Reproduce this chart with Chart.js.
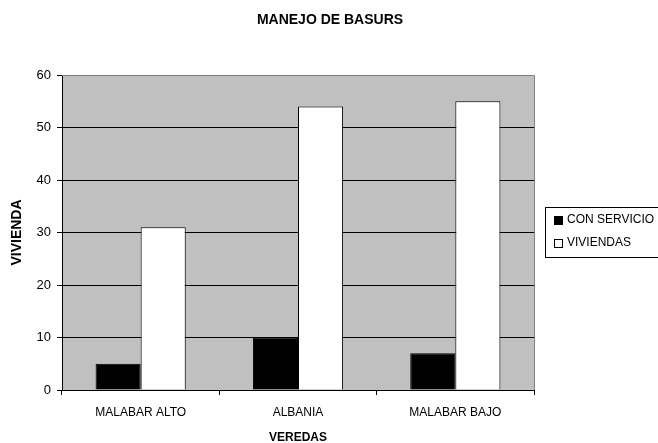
<!DOCTYPE html>
<html>
<head>
<meta charset="utf-8">
<script src="https://cdn.jsdelivr.net/npm/chart.js@4.4.1/dist/chart.umd.min.js"></script>
<style>
    html, body { margin: 0; padding: 0; background: #fff; }
    canvas { display: block; }
</style>
</head>
<body>
<canvas id="chart" width="658" height="443"></canvas>
<script>
// data
const veredas = ["MALABAR ALTO", "ALBANIA", "MALABAR BAJO"];
const conServicio = [5, 10, 7];
const viviendas = [31, 54, 55];
const seriesNames = ["CON SERVICIO", "VIVIENDAS"];
const seriesColors = ["#000000", "#ffffff"];
const yMax = 60;
const yStep = 10;

const FONT = "'Liberation Sans', Arial, sans-serif";

// gray plot background, gray top/right frame, titles and boxed legend
const decor = {
    id: "decor",
    beforeDraw(chart) {
        const { ctx, chartArea: a } = chart;
        ctx.save();
        ctx.fillStyle = "#fff";
        ctx.fillRect(0, 0, chart.width, chart.height);
        ctx.fillStyle = "#c0c0c0";
        ctx.fillRect(a.left, a.top, a.right - a.left, a.bottom - a.top);
        ctx.restore();
    },
    afterDraw(chart) {
        const { ctx, chartArea: a } = chart;
        ctx.save();
        ctx.strokeStyle = "#808080";
        ctx.lineWidth = 1;
        ctx.beginPath();
        ctx.moveTo(a.left, Math.round(a.top) + 0.5);
        ctx.lineTo(Math.round(a.right) + 0.5, Math.round(a.top) + 0.5);
        ctx.lineTo(Math.round(a.right) + 0.5, a.bottom);
        ctx.stroke();

        ctx.fillStyle = "#000";
        ctx.textAlign = "center";
        ctx.textBaseline = "middle";

        // chart title
        ctx.font = "bold 14px " + FONT;
        ctx.fillText("MANEJO DE BASURS", 330, 20);

        // axis titles
        ctx.font = "bold 12px " + FONT;
        ctx.fillText("VEREDAS", (a.left + a.right) / 2, 438);
        ctx.save();
        ctx.translate(17, (a.top + a.bottom) / 2);
        ctx.rotate(-Math.PI / 2);
        ctx.font = "bold 14px " + FONT;
        ctx.fillText("VIVIENDA", 0, 0);
        ctx.restore();

        // legend
        ctx.strokeStyle = "#000";
        ctx.strokeRect(545.5, 207.5, 200, 50);
        ctx.font = "12px " + FONT;
        ctx.textAlign = "left";
        chart.data.datasets.forEach((ds, i) => {
            const y = 220 + i * 23;
            ctx.fillStyle = ds.backgroundColor;
            ctx.fillRect(554, y - 4, 9, 9);
            ctx.strokeRect(554.5, y - 3.5, 8, 8);
            ctx.fillStyle = "#000";
            ctx.fillText(ds.label, 567, y);
        });
        ctx.restore();
    }
};

new Chart(document.getElementById("chart"), {
    type: "bar",
    data: {
        labels: veredas,
        datasets: [
            {
                label: seriesNames[0],
                data: conServicio,
                backgroundColor: seriesColors[0],
                borderColor: "#000",
                borderWidth: 1,
                categoryPercentage: 0.573,
                barPercentage: 1
            },
            {
                label: seriesNames[1],
                data: viviendas,
                backgroundColor: seriesColors[1],
                borderColor: "#000",
                borderWidth: 1,
                categoryPercentage: 0.573,
                barPercentage: 1
            }
        ]
    },
    options: {
        responsive: false,
        devicePixelRatio: 1,
        animation: false,
        layout: { padding: { top: 75, right: 124, bottom: 0, left: 0 } },
        plugins: {
            legend: { display: false },
            title: { display: false },
            tooltip: { enabled: false }
        },
        scales: {
            x: {
                grid: {
                    display: true,
                    drawOnChartArea: false,
                    offset: true,
                    tickLength: 5,
                    color: "#000"
                },
                border: { display: true, color: "#000" },
                ticks: {
                    color: "#000",
                    font: { family: FONT, size: 12 },
                    padding: 10,
                    maxRotation: 0
                },
                afterFit(scale) { scale.height = 53; }
            },
            y: {
                min: 0,
                max: yMax,
                ticks: {
                    stepSize: yStep,
                    color: "#000",
                    font: { family: FONT, size: 13 },
                    padding: 6
                },
                grid: {
                    color: (c) => (c.tick && c.tick.value === yMax ? "rgba(0,0,0,0)" : "#000"),
                    tickColor: "#000",
                    tickLength: 5
                },
                border: { display: true, color: "#000" },
                afterFit(scale) { scale.width = 62; }
            }
        }
    },
    plugins: [decor]
});
</script>
</body>
</html>
